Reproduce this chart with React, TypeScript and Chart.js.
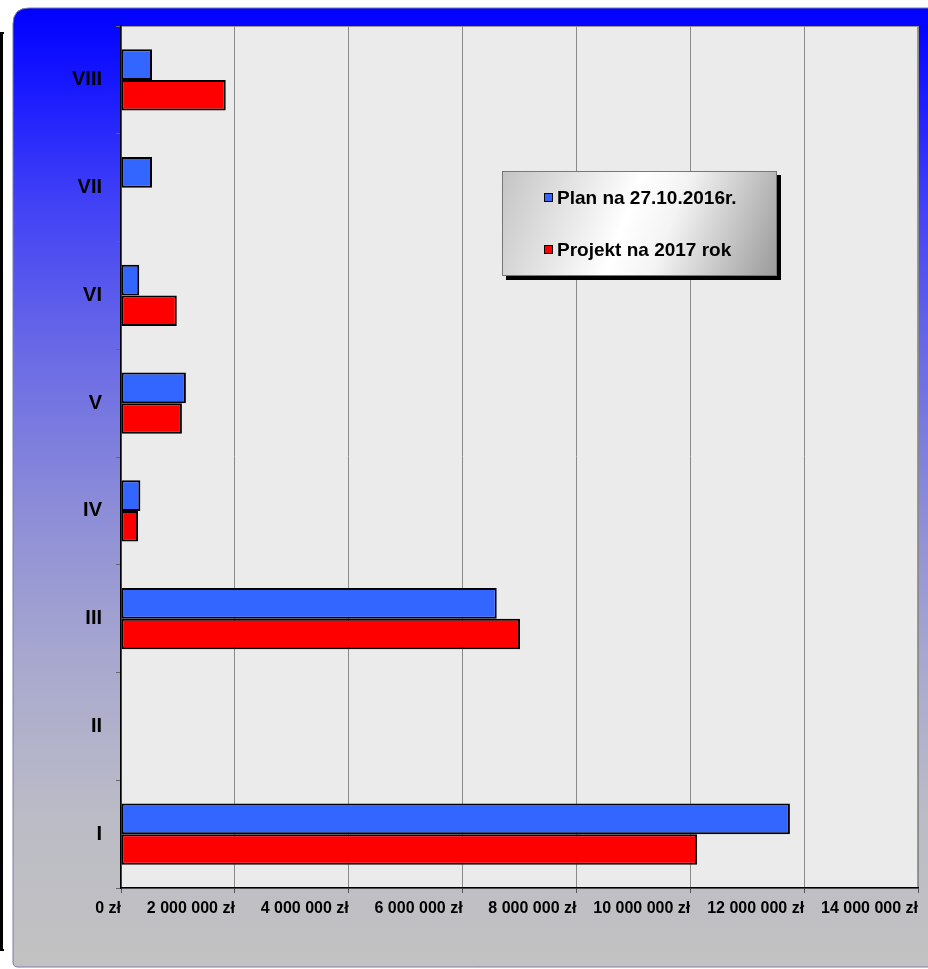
import React, { useEffect, useRef } from "react";
import { Chart, registerables } from "chart.js";

Chart.register(...registerables);

const categories = ["VIII", "VII", "VI", "V", "IV", "III", "II", "I"];
const planValues = [545000, 545000, 320000, 1140000, 340000, 6600000, 0, 11750000];
const projectValues = [1840000, 0, 980000, 1070000, 300000, 7010000, 0, 10120000];
const seriesLabels = ["Plan na 27.10.2016r.", "Projekt na 2017 rok"];
const xTicks = { min: 0, max: 14000000, step: 2000000 };

const FONT = "'Liberation Sans', Arial, Helvetica, sans-serif";

function formatZl(v: number): string {
  const s = Math.round(v).toString();
  return s.replace(/\B(?=(\d{3})+(?!\d))/g, " ") + " zł";
}

const backgroundPlugin = {
  id: "bgPlugin",
  beforeDraw(chart: any) {
    const ctx = chart.ctx as CanvasRenderingContext2D;
    const W = chart.width;
    const H = chart.height;
    ctx.save();
    ctx.fillStyle = "#ffffff";
    ctx.fillRect(0, 0, W, H);
    const x0 = 13, y0 = 8, x1 = W + 20, y1 = 967;
    const g = ctx.createLinearGradient(0, y0, 0, y1);
    g.addColorStop(0, "#0000ff");
    g.addColorStop(0.08, "#1818ff");
    g.addColorStop(0.2, "#4040f6");
    g.addColorStop(0.36, "#6a6ae6");
    g.addColorStop(0.52, "#8c8cd8");
    g.addColorStop(0.68, "#a8a8cf");
    g.addColorStop(0.84, "#bbbbc6");
    g.addColorStop(1, "#c2c2c2");
    ctx.beginPath();
    const r = 16, rb = 5;
    ctx.moveTo(x0 + r, y0);
    ctx.lineTo(x1, y0);
    ctx.lineTo(x1, y1);
    ctx.lineTo(x0 + rb, y1);
    ctx.quadraticCurveTo(x0, y1, x0, y1 - rb);
    ctx.lineTo(x0, y0 + r);
    ctx.quadraticCurveTo(x0, y0, x0 + r, y0);
    ctx.closePath();
    ctx.fillStyle = g;
    ctx.fill();
    ctx.strokeStyle = "#7a7aa8";
    ctx.lineWidth = 1;
    ctx.stroke();
    const a = chart.chartArea;
    ctx.fillStyle = "#ebebeb";
    ctx.fillRect(a.left, a.top, a.right - a.left, a.bottom - a.top);
    ctx.strokeStyle = "#9a9a9a";
    ctx.lineWidth = 1;
    ctx.strokeRect(a.left + 0.5, a.top + 0.5, a.right - a.left - 1, a.bottom - a.top);
    ctx.fillStyle = "#000000";
    ctx.fillRect(0, 32, 3, 919);
    ctx.fillRect(0, 32, 4, 2);
    ctx.fillRect(0, 101, 3, 2);
    ctx.fillRect(0, 911, 3, 2);
    ctx.fillRect(0, 949, 4, 2);
    ctx.restore();
  },
};

const legendPlugin = {
  id: "boxLegend",
  afterDraw(chart: any) {
    const ctx = chart.ctx as CanvasRenderingContext2D;
    const bx = 502, by = 171, bw = 275, bh = 105;
    ctx.save();
    ctx.fillStyle = "#000000";
    ctx.fillRect(bx + 4, by + 4, bw, bh);
    const g = ctx.createLinearGradient(bx, by, bx + bw, by + bh);
    g.addColorStop(0, "#c4c4c4");
    g.addColorStop(0.45, "#ffffff");
    g.addColorStop(0.6, "#f4f4f4");
    g.addColorStop(1, "#9a9a9a");
    ctx.fillStyle = g;
    ctx.fillRect(bx, by, bw, bh);
    ctx.strokeStyle = "#777777";
    ctx.lineWidth = 1;
    ctx.strokeRect(bx + 0.5, by + 0.5, bw - 1, bh - 1);
    const ys = [198, 250];
    chart.data.datasets.forEach((ds: any, i: number) => {
      const y = ys[i];
      ctx.fillStyle = ds.backgroundColor;
      ctx.fillRect(544, y - 5, 9, 9);
      ctx.strokeStyle = "#000000";
      ctx.lineWidth = 1;
      ctx.strokeRect(544.5, y - 4.5, 8, 8);
      ctx.fillStyle = "#000000";
      ctx.font = `bold 19px ${FONT}`;
      ctx.textBaseline = "middle";
      ctx.textAlign = "left";
      ctx.fillText(ds.label, 557, y + 1);
    });
    ctx.restore();
  },
};

export default function App() {
  const ref = useRef<HTMLCanvasElement | null>(null);
  useEffect(() => {
    if (!ref.current) return;
    const chart = new Chart(ref.current, {
      type: "bar",
      data: {
        labels: categories,
        datasets: [
          {
            label: seriesLabels[0],
            data: planValues,
            backgroundColor: "#3366ff",
            borderColor: "#000000",
            borderWidth: 2,
            borderSkipped: false,
          },
          {
            label: seriesLabels[1],
            data: projectValues,
            backgroundColor: "#ff0000",
            borderColor: "#000000",
            borderWidth: 2,
            borderSkipped: false,
          },
        ],
      },
      options: {
        indexAxis: "y",
        responsive: false,
        animation: false,
        devicePixelRatio: 1,
        layout: { padding: { left: 0, top: 26, right: 10, bottom: 0 } },
        datasets: { bar: { categoryPercentage: 0.57, barPercentage: 1.0 } },
        plugins: {
          legend: { display: false },
          tooltip: { enabled: false },
          title: { display: false },
        },
        scales: {
          x: {
            type: "linear",
            min: xTicks.min,
            max: xTicks.max,
            afterFit: (s: any) => {
              s.height = 81;
            },
            ticks: {
              stepSize: xTicks.step,
              align: "end",
              padding: 6,
              color: "#000000",
              font: { family: FONT, size: 16, weight: "bold" },
              callback: (v: any) => formatZl(Number(v)),
              maxRotation: 0,
            },
            grid: {
              color: "#8a8a8a",
              lineWidth: 1,
              tickLength: 5,
              drawOnChartArea: true,
              drawTicks: true,
              tickColor: "#555555",
            },
            border: { display: true, color: "#000000", width: 1.5 },
          },
          y: {
            type: "category",
            afterFit: (s: any) => {
              s.width = 121;
            },
            ticks: {
              padding: 14,
              color: "#000000",
              font: { family: FONT, size: 20, weight: "bold" },
            },
            grid: {
              drawOnChartArea: false,
              drawTicks: true,
              tickLength: 5,
              tickColor: "#666666",
              offset: true,
            },
            border: { display: true, color: "#000000", width: 1.5 },
          },
        },
      },
      plugins: [backgroundPlugin, legendPlugin],
    } as any);
    return () => chart.destroy();
  }, []);

  return (
    <div style={{ position: "fixed", left: 0, top: 0, width: 928, height: 969 }}>
      <canvas ref={ref} width={928} height={969} style={{ width: 928, height: 969, display: "block" }} />
    </div>
  );
}
